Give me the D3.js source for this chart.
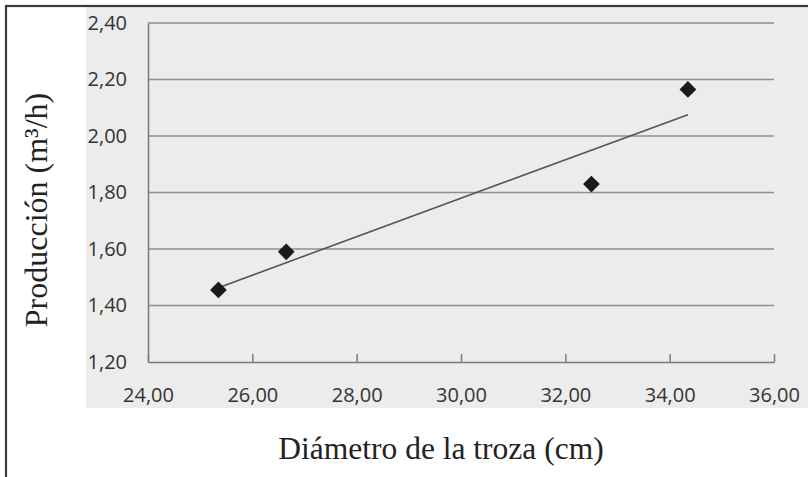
<!DOCTYPE html>
<html><head><meta charset="utf-8">
<script src="https://cdn.jsdelivr.net/npm/d3@7/dist/d3.min.js"></script>
<style>body{margin:0;background:#fff;}svg{display:block;}</style>
</head><body>
<svg id="chart" width="808" height="477"></svg>
<script>
// Data
const diametro = [25.35, 26.65, 32.5, 34.35];
const produccion = [1.455, 1.59, 1.83, 2.165];
const xTicks = [24, 26, 28, 30, 32, 34, 36];
const yTicks = [1.2, 1.4, 1.6, 1.8, 2.0, 2.2, 2.4];
const xTitle = "Diámetro de la troza (cm)";
const yTitle = "Producción (m³/h)";

const svg = d3.select("#chart");
const W = 808, H = 477;
const loc = d3.formatLocale({decimal: ",", thousands: ".", grouping: [3], currency: ["", "€"]});
const fmt = loc.format(".2f");

// background panel
svg.append("rect").attr("x", 86).attr("y", 7).attr("width", W - 86 + 10).attr("height", 401).attr("fill", "#ececec");
// outer frame (cropped on right/bottom)
svg.append("rect").attr("x", 6).attr("y", 6).attr("width", W + 20).attr("height", H + 20)
  .attr("fill", "none").attr("stroke", "#3a3a3a").attr("stroke-width", 2.2);

const x = d3.scaleLinear().domain([24, 36]).range([148, 774]);
const y = d3.scaleLinear().domain([1.2, 2.4]).range([362, 23]);

// gridlines
svg.append("g").selectAll("line").data(yTicks.slice(1)).join("line")
  .attr("x1", x(24)).attr("x2", x(36)).attr("y1", d => y(d)).attr("y2", d => y(d))
  .attr("stroke", "#8e8e8e").attr("stroke-width", 1.5);

// x axis with inner ticks
const xAxis = d3.axisBottom(x).tickValues(xTicks).tickSizeInner(-8).tickSizeOuter(0).tickFormat(fmt);
const gx = svg.append("g").attr("transform", `translate(0,${y(1.2)})`).call(xAxis);
gx.select(".domain").attr("stroke", "#7a7a7a").attr("stroke-width", 1.5);
gx.selectAll(".tick line").attr("stroke", "#7a7a7a").attr("stroke-width", 1.5);
gx.selectAll(".tick text").attr("dy", 0).attr("y", 40)
  .attr("font-family", "'Open Sans', sans-serif").attr("font-size", 20).attr("fill", "#333");

// y axis
const yAxis = d3.axisLeft(y).tickValues(yTicks).tickSize(0).tickPadding(21).tickFormat(fmt);
const gy = svg.append("g").attr("transform", `translate(${x(24)},0)`).call(yAxis);
gy.select(".domain").attr("stroke", "#7a7a7a").attr("stroke-width", 1.5);
gy.selectAll(".tick text").attr("font-family", "'Open Sans', sans-serif").attr("font-size", 20).attr("fill", "#333");

// trend line (least squares from the data)
const mx = d3.mean(diametro), my = d3.mean(produccion);
const slope = d3.sum(diametro, (d, i) => (d - mx) * (produccion[i] - my)) / d3.sum(diametro, d => (d - mx) ** 2);
const x0 = d3.min(diametro), x1 = d3.max(diametro);
svg.append("line")
  .attr("x1", x(x0)).attr("y1", y(my + slope * (x0 - mx)))
  .attr("x2", x(x1)).attr("y2", y(my + slope * (x1 - mx)))
  .attr("stroke", "#555").attr("stroke-width", 1.6);

// points (diamonds)
const sym = d3.symbol().type(d3.symbolSquare).size(140);
svg.append("g").selectAll("path").data(diametro).join("path")
  .attr("d", sym)
  .attr("transform", (d, i) => `translate(${x(d)},${y(produccion[i])}) rotate(45)`)
  .attr("fill", "#1a1a1a");

// titles
svg.append("text").attr("x", 441).attr("y", 459).attr("text-anchor", "middle")
  .attr("font-family", "'Liberation Serif', 'Times New Roman', serif").attr("font-size", 31.5).attr("fill", "#222")
  .text(xTitle);
svg.append("text").attr("transform", "translate(47,210) rotate(-90)").attr("text-anchor", "middle")
  .attr("font-family", "'Liberation Serif', 'Times New Roman', serif").attr("font-size", 32).attr("fill", "#222")
  .text(yTitle);
</script>
</body></html>
